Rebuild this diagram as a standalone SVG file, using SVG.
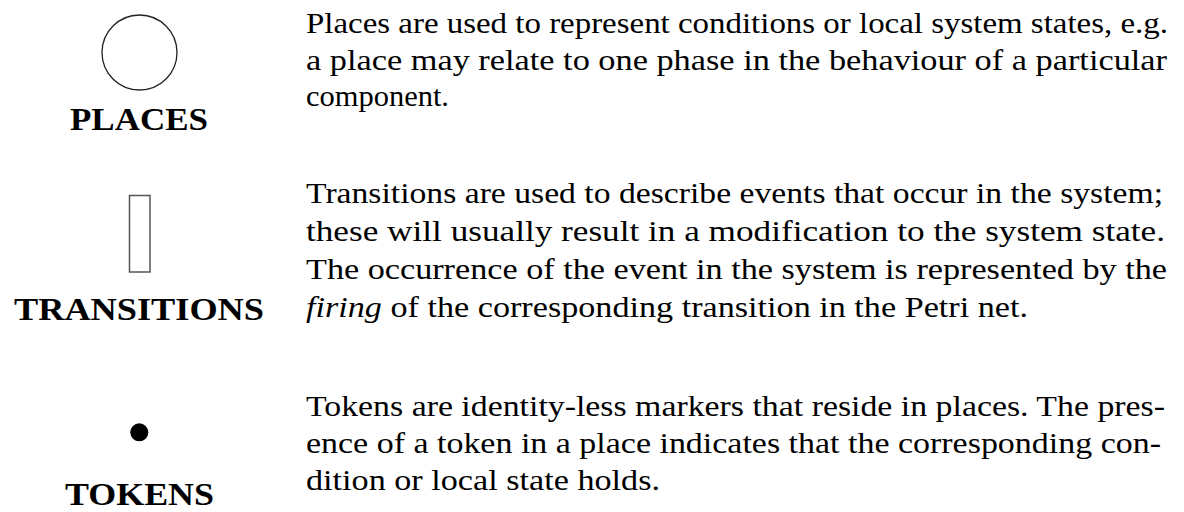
<svg xmlns="http://www.w3.org/2000/svg" width="1184" height="512" viewBox="0 0 1184 512">
  <style>
    .body { font-family: "Liberation Serif", "Times New Roman", serif; font-size: 30px; fill: #000; }
    .label { font-family: "Liberation Serif", "Times New Roman", serif; font-size: 32px; font-weight: bold; fill: #000; }
    .shape { fill: #fff; stroke: #222; stroke-width: 1.3; }
    .it { font-style: italic; }
  </style>
  <rect width="1184" height="512" fill="#fff"/>
  <g id="places">
    <circle class="shape" cx="139.5" cy="52.5" r="37.5"/>
    <text class="label" x="139" y="130" text-anchor="middle" textLength="138" lengthAdjust="spacingAndGlyphs">PLACES</text>
    <text class="body" x="306" y="33" textLength="862" lengthAdjust="spacingAndGlyphs">Places are used to represent conditions or local system states, e.g.</text>
    <text class="body" x="306" y="69.5" textLength="861" lengthAdjust="spacingAndGlyphs">a place may relate to one phase in the behaviour of a particular</text>
    <text class="body" x="306" y="106" textLength="143" lengthAdjust="spacingAndGlyphs">component.</text>
  </g>
  <g id="transitions">
    <rect class="shape" x="129.5" y="195.5" width="20.5" height="76.5" style="stroke:#555;stroke-width:1.5"/>
    <text class="label" x="139" y="320" text-anchor="middle" textLength="250" lengthAdjust="spacingAndGlyphs">TRANSITIONS</text>
    <text class="body" x="306" y="203" textLength="857" lengthAdjust="spacingAndGlyphs">Transitions are used to describe events that occur in the system;</text>
    <text class="body" x="306" y="241" textLength="859" lengthAdjust="spacingAndGlyphs">these will usually result in a modification to the system state.</text>
    <text class="body" x="306" y="279" textLength="861" lengthAdjust="spacingAndGlyphs">The occurrence of the event in the system is represented by the</text>
    <text class="body" x="306" y="316.5" textLength="722" lengthAdjust="spacingAndGlyphs"><tspan class="it">firing</tspan> of the corresponding transition in the Petri net.</text>
  </g>
  <g id="tokens">
    <circle cx="139.3" cy="432.3" r="9" fill="#000"/>
    <text class="label" x="139.5" y="505" text-anchor="middle" textLength="149" lengthAdjust="spacingAndGlyphs">TOKENS</text>
    <text class="body" x="306" y="415.5" textLength="859" lengthAdjust="spacingAndGlyphs">Tokens are identity-less markers that reside in places. The pres-</text>
    <text class="body" x="306" y="453" textLength="855" lengthAdjust="spacingAndGlyphs">ence of a token in a place indicates that the corresponding con-</text>
    <text class="body" x="306" y="489.5" textLength="354" lengthAdjust="spacingAndGlyphs">dition or local state holds.</text>
  </g>
</svg>
